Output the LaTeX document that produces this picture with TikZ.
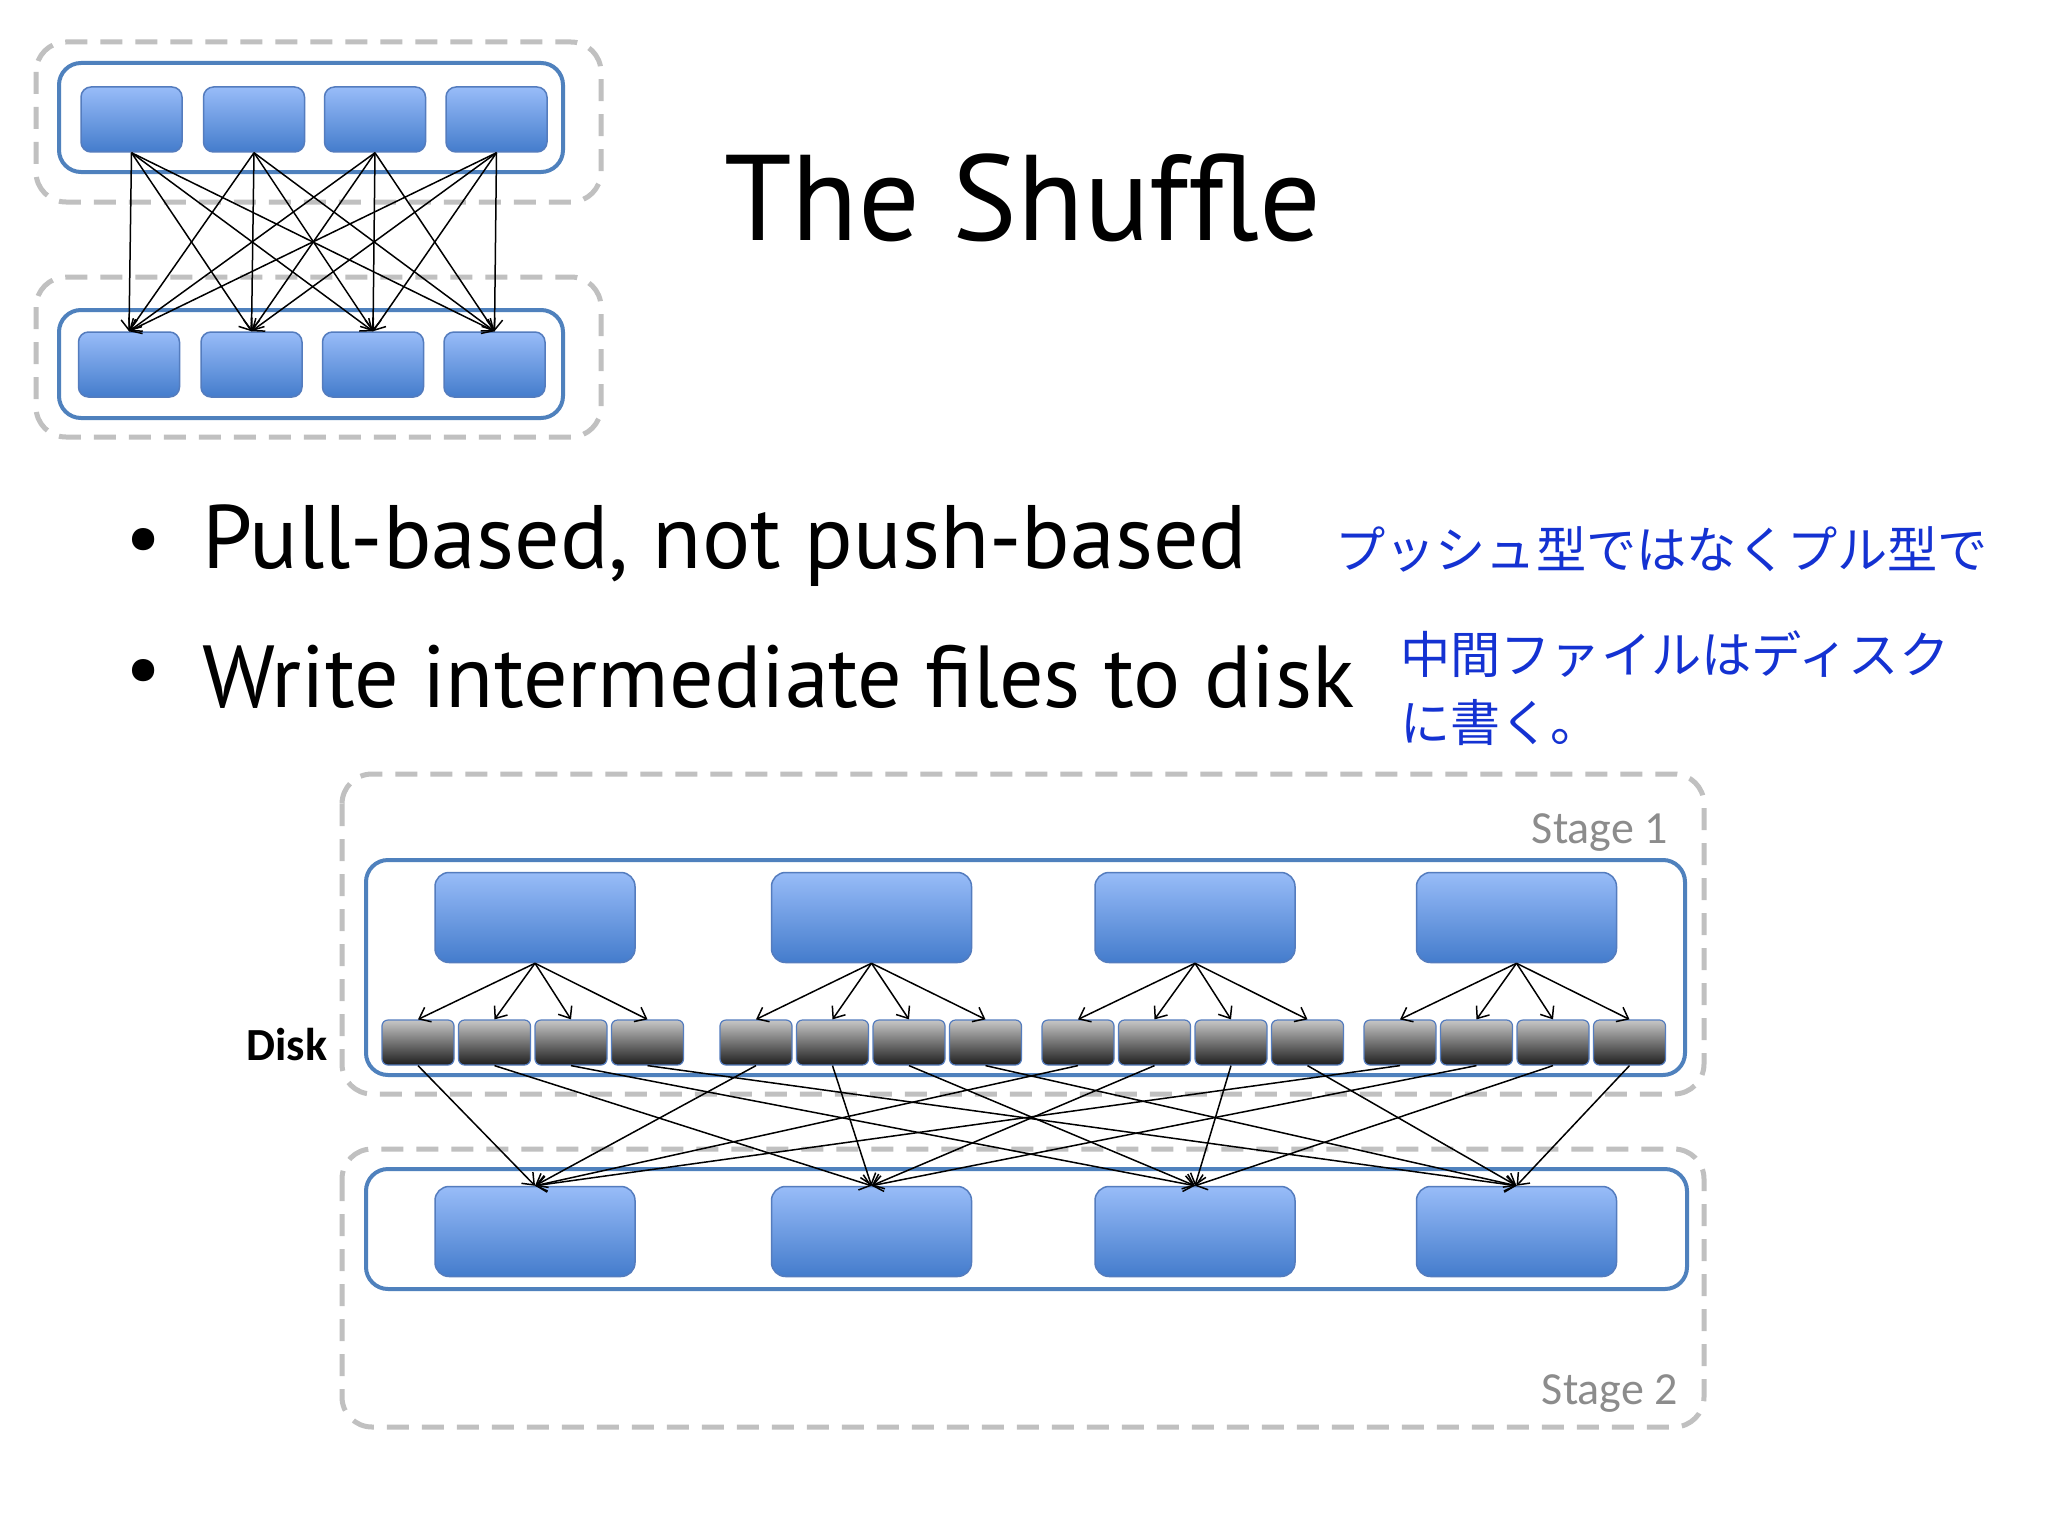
\documentclass[tikz,border=0pt]{standalone}
\usepackage{fontspec}
\setmainfont{PT Sans}
\newfontfamily\jpf{Noto Sans CJK JP}
\newfontfamily\calf{Carlito}
\usetikzlibrary{arrows.meta}
\definecolor{bt}{RGB}{152,188,248}
\definecolor{bb}{RGB}{68,124,204}
\definecolor{bd}{RGB}{84,124,190}
\definecolor{cont}{RGB}{79,129,189}
\definecolor{dash}{RGB}{192,192,192}
\definecolor{jb}{RGB}{20,50,210}
\begin{document}
\begin{tikzpicture}[x=1pt,y=-1pt,
  task/.style={draw=bd,line width=1.5pt,rounded corners=10pt,top color=bt,bottom color=bb,inner sep=0pt},
  small/.style={task,minimum width=101pt,minimum height=65pt},
  big/.style={task,minimum width=200pt,minimum height=90pt,rounded corners=14pt},
  disk/.style={draw=bd,line width=1.2pt,rounded corners=6pt,top color=black!22,bottom color=black!88,minimum width=72pt,minimum height=45pt,inner sep=0pt},
  cont/.style={draw=cont,line width=4pt,rounded corners=22pt},
  dsh/.style={draw=dash,line width=5pt,dash pattern=on 22pt off 13pt,rounded corners=30pt},
  arr/.style={-{Straight Barb[length=10pt,width=16pt]},line width=1.5pt},
  stage/.style={font=\calf\fontsize{46}{50}\selectfont,text=black!45,anchor=base east,inner sep=0pt}]
\useasboundingbox[fill=white] (0,0) rectangle (2048,1536);
% top-left diagram
\draw[dsh] (36,42) rectangle (601,202);
\draw[dsh] (36,277) rectangle (601,437);
\draw[cont] (59,63) rectangle (563,172);
\draw[cont] (59,310) rectangle (563,418);
\foreach \i/\x in {1/131.5,2/254,3/375,4/496.5} \node[small] (t\i) at (\x,119.5) {};
\foreach \i/\x in {1/129,2/251.5,3/373,4/494.5} \node[small] (b\i) at (\x,364.5) {};
\foreach \i in {1,...,4} \foreach \j in {1,...,4} \draw[arr] (t\i.south) -- (b\j.north);
% title and bullets
\node[anchor=base,inner sep=0pt] (title) at (1023,240) {\resizebox{597pt}{!}{The Shuffle}};
\node[anchor=west,inner sep=0pt] (d1) at (125,546) {\fontsize{80}{90}\selectfont •};
\node[anchor=west,inner sep=0pt] (d2) at (125,677) {\fontsize{80}{90}\selectfont •};
\node[anchor=west,inner sep=0pt] (l1) at (202,546) {\resizebox{1045pt}{!}{Pull-based, not push-based}};
\node[anchor=west,inner sep=0pt] (l2) at (202,677) {\resizebox{1152pt}{!}{Write intermediate files to disk}};
\node[anchor=west,inner sep=0pt,text=jb] (j1) at (1335,549) {\resizebox{653pt}{!}{\jpf プッシュ型ではなくプル型で}};
\node[anchor=west,inner sep=0pt,text=jb] (j2) at (1400,654) {\resizebox{549pt}{!}{\jpf 中間ファイルはディスク}};
\node[anchor=west,inner sep=0pt,text=jb] (j3) at (1400,723) {\jpf\fontsize{50}{55}\selectfont に書く。};
% bottom diagram
\draw[dsh] (342,774) rectangle (1704,1094);
\draw[dsh] (342,1149) rectangle (1704,1427);
\draw[cont] (366,860) rectangle (1685,1075);
\draw[cont] (366,1169) rectangle (1687,1289);
\node[stage] (s1) at (1668,843) {Stage 1};
\node[stage] (s2) at (1678,1404) {Stage 2};
\node[anchor=base,inner sep=0pt,font=\calf\bfseries\fontsize{46}{50}\selectfont] (dk) at (287,1060) {Disk};
\foreach \g/\x in {1/535,2/871.5,3/1195,4/1516.5} \node[big] (B\g) at (\x,917.5) {};
\foreach \g/\x in {1/535,2/871.5,3/1195,4/1516.5} \node[big] (C\g) at (\x,1231.5) {};
\foreach \g/\s in {1/382,2/720,3/1042,4/1364}
  \foreach \k in {1,...,4} {
    \node[disk] (d\g\k) at ({\s+36+(\k-1)*76.5},1042.5) {};
    \draw[arr] (B\g.south) -- (d\g\k.north);
  }
\foreach \g in {1,...,4} \foreach \k in {1,...,4} \draw[arr] (d\g\k.south) -- (C\k.north);
\end{tikzpicture}
\end{document}
